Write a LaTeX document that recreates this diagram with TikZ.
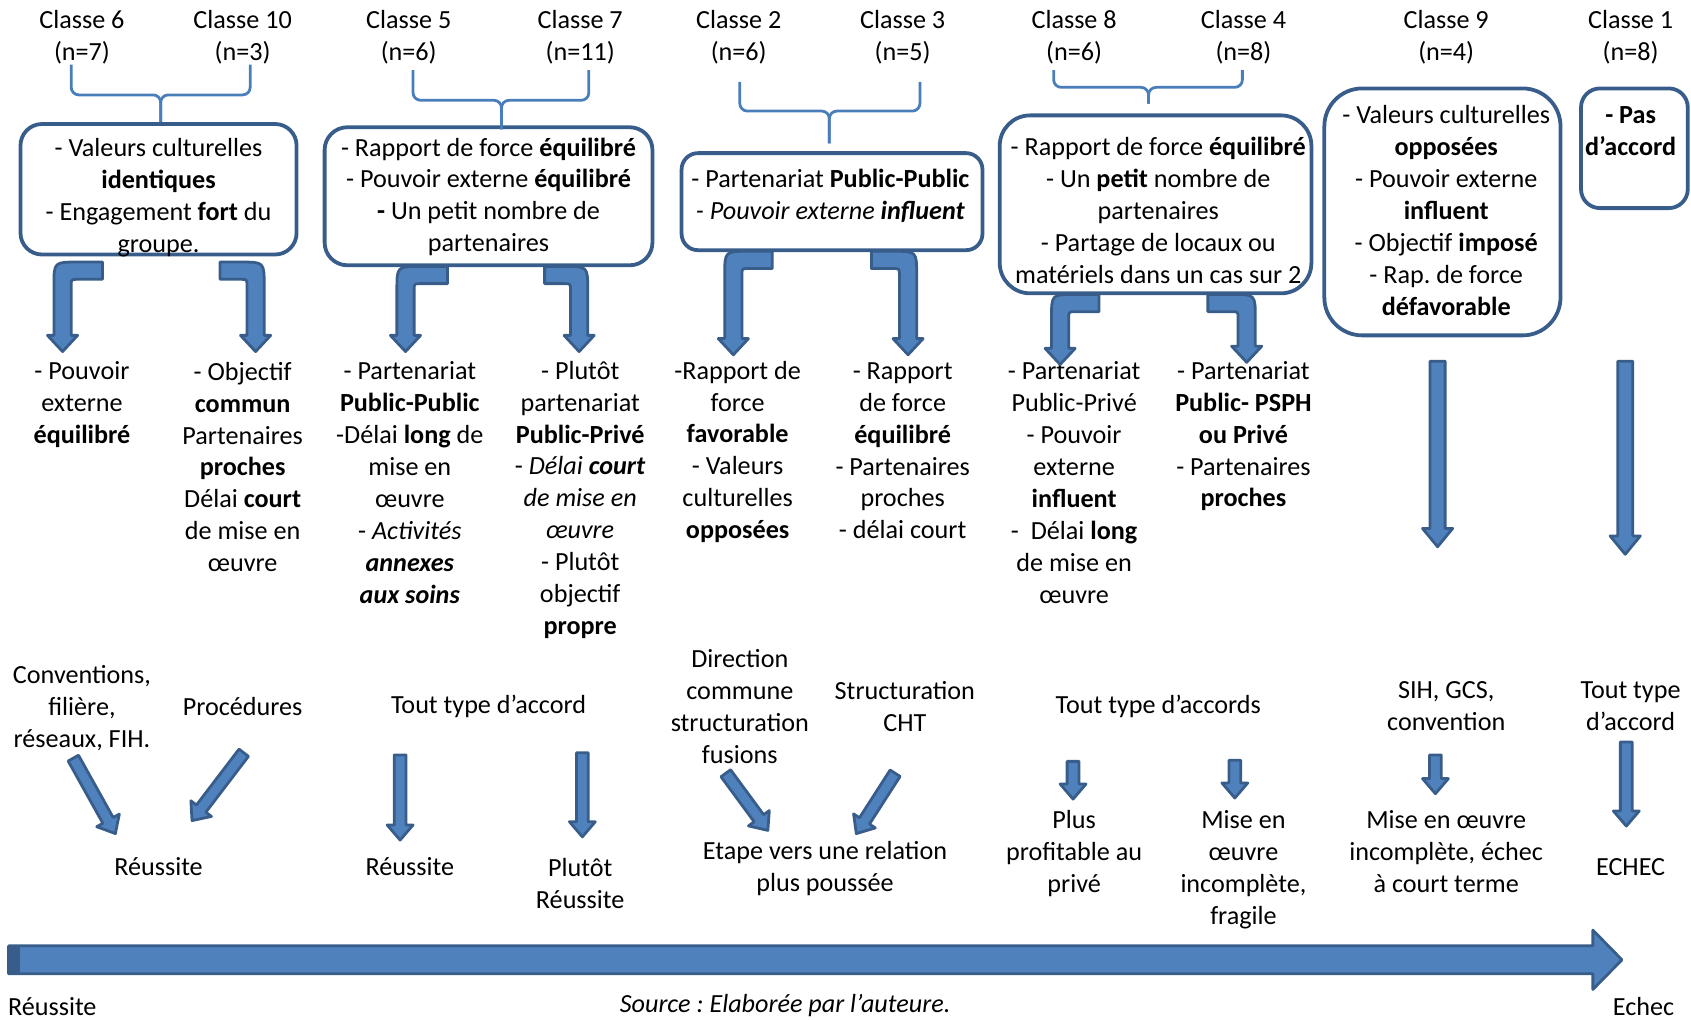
\documentclass[tikz,border=0pt]{standalone}
\usepackage{fontspec}
\setmainfont{Carlito}
\frenchspacing
\usetikzlibrary{calc,fit}

\definecolor{bfill}{HTML}{4F81BD}
\definecolor{bline}{HTML}{385D8A}
\definecolor{brc}{HTML}{4A7EBB}

\def\pxu{0.42679pt}

% bent block arrow: #1 = 1 turns left, -1 turns right; #2 stub end (top edge), #3 tip
\newcommand\bentarrow[3]{%
  \filldraw[blockar] let \p1=(#2), \p2=(#3) in
    (\x1,\y1) -- ({\x2-(#1)*8*\pxu+(#1)*22*\pxu},\y1)
    .. controls ({\x2-(#1)*8*\pxu},\y1) .. ({\x2-(#1)*8*\pxu},{\y1-22*\pxu})
    -- ({\x2-(#1)*8*\pxu},{\y2+15*\pxu}) -- ({\x2-(#1)*14*\pxu},{\y2+15*\pxu})
    -- (\x2,\y2) -- ({\x2+(#1)*14*\pxu},{\y2+15*\pxu})
    -- ({\x2+(#1)*8*\pxu},{\y2+15*\pxu}) -- ({\x2+(#1)*8*\pxu},{\y1-22*\pxu})
    .. controls ({\x2+(#1)*8*\pxu},{\y1-16*\pxu}) .. ({\x2+(#1)*14*\pxu},{\y1-16*\pxu})
    -- (\x1,{\y1-16*\pxu}) -- cycle;}

% straight block arrow: #1 from, #2 to, #3 half shaft, #4 half head, #5 head length
\newcommand\blockarrow[5]{%
  \path let \p1=(#1), \p2=(#2), \n1={atan2(\y2-\y1,\x2-\x1)},
    \n2={veclen(\x2-\x1,\y2-\y1)} in \pgfextra{\xdef\arang{\n1}\xdef\arlen{\n2}};
  \filldraw[blockar,shift={(#1)},rotate=\arang]
    (0pt,{-#3*\pxu}) -- ({\arlen-#5*\pxu},{-#3*\pxu})
    -- ({\arlen-#5*\pxu},{-#4*\pxu}) -- (\arlen,0pt)
    -- ({\arlen-#5*\pxu},{#4*\pxu}) -- ({\arlen-#5*\pxu},{#3*\pxu})
    -- (0pt,{#3*\pxu}) -- cycle;}

\begin{document}
\begin{tikzpicture}[x=0.015cm,y=-0.015cm,
    txt/.style={align=center,inner sep=0pt,font=\fontsize{10.35}{12.63}\selectfont},
    box/.style={draw=bline,line width=1.5pt,inner sep=0pt},
    brace/.style={draw=brc,line width=1.1pt,rounded corners=3pt},
    blockar/.style={fill=bfill,draw=bline,line width=1.1pt,line join=round}]
\useasboundingbox (0,0) rectangle (1568,945);

% classes
\node[txt] (c6) at (76,34.5) {Classe 6\\(n=7)};
\node[txt] (c10) at (225,34.5) {Classe 10\\(n=3)};
\node[txt] (c5) at (379,34.5) {Classe 5\\(n=6)};
\node[txt] (c7) at (538,34.5) {Classe 7\\(n=11)};
\node[txt] (c2) at (685,34.5) {Classe 2\\(n=6)};
\node[txt] (c3) at (837,34.5) {Classe 3\\(n=5)};
\node[txt] (c8) at (996,34.5) {Classe 8\\(n=6)};
\node[txt] (c4) at (1153,34.5) {Classe 4\\(n=8)};
\node[txt] (c9) at (1341,34.5) {Classe 9\\(n=4)};
\node[txt] (c1) at (1512,34.5) {Classe 1\\(n=8)};

% boxes
\node[box,rounded corners=8.5pt,fit={(19,115) (275,236)}] (bA) {};
\node[box,rounded corners=9pt,fit={(301,118) (605,246)}] (bB) {};
\node[box,rounded corners=6.5pt,fit={(632,142) (911,232)}] (bC) {};
\node[box,rounded corners=12pt,fit={(927,107) (1216,272)}] (bD) {};
\node[box,rounded corners=15pt,fit={(1228,82) (1447,311)}] (bE) {};
\node[box,rounded corners=7.5pt,fit={(1466,82) (1565,193)}] (bF) {};

\node[txt] (tA) at (147,183.5) {- Valeurs culturelles\\\textbf{identiques}\\- Engagement \textbf{fort} du\\groupe.};
\node[txt] (tB) at (453,182.5) {- Rapport de force \textbf{équilibré}\\- Pouvoir externe \textbf{équilibré}\\\textbf{-} Un petit nombre de\\partenaires};
\node[txt] (tC) at (770,182) {- Partenariat \textbf{Public-Public}\\\textit{- Pouvoir externe \textbf{influent}}};
\node[txt] (tD) at (1074,195) {- Rapport de force \textbf{équilibré}\\- Un \textbf{petit} nombre de\\partenaires\\- Partage de locaux ou\\matériels dans un cas sur 2};
\node[txt] (tE) at (1341,195) {- Valeurs culturelles\\\textbf{opposées}\\- Pouvoir externe\\\textbf{influent}\\- Objectif \textbf{imposé}\\- Rap. de force\\\textbf{défavorable}};
\node[txt] (tF) at (1512,122) {\textbf{- Pas}\\\textbf{d’accord}};

% braces
\coordinate (k1a) at (66,60); \coordinate (k1b) at (232,60);
\coordinate (k1m) at (149,88); \coordinate (k1t) at (149,113);
\coordinate (k2a) at (383,65); \coordinate (k2b) at (546,65);
\coordinate (k2m) at (465,93); \coordinate (k2t) at (465,120);
\coordinate (k3a) at (686,76); \coordinate (k3b) at (853,76);
\coordinate (k3m) at (769,103); \coordinate (k3t) at (769,133);
\coordinate (k4a) at (977,65); \coordinate (k4b) at (1152,65);
\coordinate (k4m) at (1065,81); \coordinate (k4t) at (1065,96);
\foreach \k in {1,2,3,4}{
  \draw[brace] (k\k a) |- (k\k m) -- (k\k t);
  \draw[brace] (k\k b) |- (k\k m) -- (k\k t);
}

% middle columns
\node[txt] (m1) at (76,375.5) {- Pouvoir\\externe\\\textbf{équilibré}};
\node[txt] (m2) at (225,433) {- Objectif\\\textbf{commun}\\Partenaires\\\textbf{proches}\\Délai \textbf{court}\\de mise en\\œuvre};
\node[txt] (m3) at (380,447.5) {- Partenariat\\\textbf{Public-Public}\\-Délai \textbf{long} de\\mise en\\œuvre\\- \textit{Activités}\\\textbf{\textit{annexes}}\\\textbf{\textit{aux soins}}};
\node[txt] (m4) at (538,463.5) {- Plutôt\\partenariat\\\textbf{Public-Privé}\\- \textit{Délai \textbf{court}}\\\textit{de mise en}\\\textit{œuvre}\\- Plutôt\\objectif\\\textbf{propre}};
\node[txt] (m5) at (684,419) {-Rapport de\\force\\\textbf{favorable}\\- Valeurs\\culturelles\\\textbf{opposées}};
\node[txt] (m6) at (837,418) {- Rapport\\de force\\\textbf{équilibré}\\- Partenaires\\proches\\- délai court};
\node[txt] (m7) at (996,447.5) {- Partenariat\\Public-Privé\\- Pouvoir\\externe\\\textbf{influent}\\-\ \ Délai \textbf{long}\\de mise en\\œuvre};
\node[txt] (m8) at (1153,404.5) {- Partenariat\\\textbf{Public- PSPH}\\\textbf{ou Privé}\\- Partenaires\\\textbf{proches}};

% bent arrows box -> column
\coordinate (pAl) at (95,243);   \coordinate (qAl) at (58,326);
\coordinate (pAr) at (204,243);  \coordinate (qAr) at (237,326);
\coordinate (pBl) at (415,247);  \coordinate (qBl) at (376,326);
\coordinate (pBr) at (505,247);  \coordinate (qBr) at (537,326);
\coordinate (pCl) at (716,233);  \coordinate (qCl) at (680,329);
\coordinate (pCr) at (808,233);  \coordinate (qCr) at (842,329);
\coordinate (pDl) at (1019,273); \coordinate (qDl) at (983,338);
\coordinate (pDr) at (1120,273); \coordinate (qDr) at (1156,336);
\foreach \b in {A,B,C,D}{
  \bentarrow{1}{p\b l}{q\b l}
  \bentarrow{-1}{p\b r}{q\b r}
}
\coordinate (pE) at (1333,335); \coordinate (qE) at (1333,507);
\coordinate (pF) at (1507,335); \coordinate (qF) at (1507,514);
\blockarrow{pE}{qE}{7}{14}{17}
\blockarrow{pF}{qF}{7}{14}{17}

% type of agreement
\node[txt] (s1) at (76,657) {Conventions,\\filière,\\réseaux, FIH.};
\node[txt] (s2) at (225,655) {Procédures};
\node[txt] (s3) at (453,655) {Tout type d’accord};
\node[txt] (s4) at (686,655) {Direction\\commune\\structuration\\fusions};
\node[txt] (s5) at (839,655.5) {Structuration\\CHT};
\node[txt] (s6) at (1074,655) {Tout type d’accords};
\node[txt] (s7) at (1341,655) {SIH, GCS,\\convention};
\node[txt] (s8) at (1512,655) {Tout type\\d’accord};

% outcomes
\node[txt] (r1) at (147,804) {Réussite};
\node[txt] (r2) at (380,804) {Réussite};
\node[txt] (r3) at (538,819) {Plutôt\\Réussite};
\node[txt] (r4) at (765,805) {Etape vers une relation\\plus poussée};
\node[txt] (r5) at (996,791.5) {Plus\\profitable au\\privé};
\node[txt] (r6) at (1153,806.5) {Mise en\\œuvre\\incomplète,\\fragile};
\node[txt] (r7) at (1341,789.5) {Mise en œuvre\\incomplète, échec\\à court terme};
\node[txt] (r8) at (1512,804) {ECHEC};

% small arrows
\coordinate (o1) at (68,703);   \coordinate (i1) at (107,773);
\coordinate (o2) at (226,698);  \coordinate (i2) at (178,761);
\coordinate (o3) at (371,700);  \coordinate (i3) at (371,779);
\coordinate (o4) at (540,698);  \coordinate (i4) at (540,776);
\coordinate (o5) at (673,717);  \coordinate (i5) at (712,770);
\coordinate (o6) at (830,717);  \coordinate (i6) at (794,773);
\coordinate (o7) at (995,706);  \coordinate (i7) at (995,741);
\coordinate (o8) at (1145,705); \coordinate (i8) at (1145,740);
\coordinate (o9) at (1331,700); \coordinate (i9) at (1331,736);
\coordinate (o10) at (1508,688); \coordinate (i10) at (1508,766);
\foreach \a in {1,...,10}{
  \blockarrow{o\a}{i\a}{5.5}{12}{14}
}

% scale
\coordinate (ba) at (8,890); \coordinate (bz) at (1504,890);
\blockarrow{ba}{bz}{13}{27.5}{27}
\fill[bline] (8,877) rectangle (19,903);
\node[txt,anchor=west] (lr) at (7,933) {Réussite};
\node[txt] (src) at (728,932) {\textit{Source : Elaborée par l’auteure.}};
\node[txt] (le) at (1524,933) {Echec};
\end{tikzpicture}
\end{document}
